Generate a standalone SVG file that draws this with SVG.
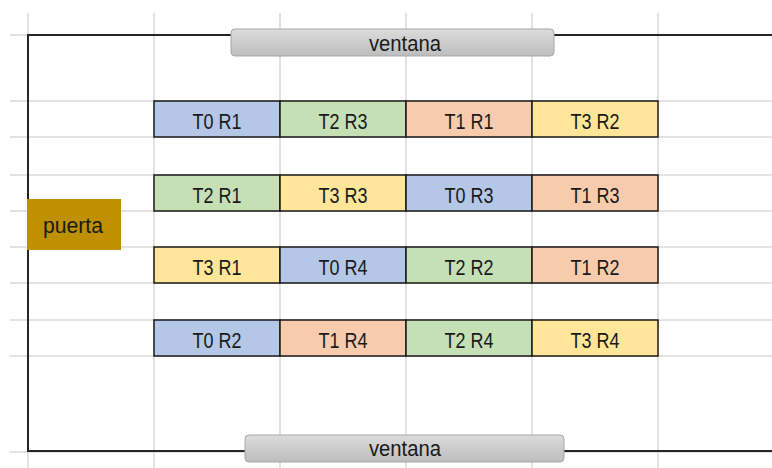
<svg xmlns="http://www.w3.org/2000/svg" width="772" height="468" viewBox="0 0 772 468">
<defs>
<linearGradient id="gv" x1="0" y1="0" x2="0" y2="1">
<stop offset="0" stop-color="#DCDCDC"/>
<stop offset="1" stop-color="#BDBDBD"/>
</linearGradient>
<style>
.grid line{stroke:#D9D9D9;stroke-width:1.5}
.wall{stroke:#262626;stroke-width:2;fill:none}
.cell{stroke:#1A1A1A;stroke-width:1.5}
.b{fill:#B4C7E7}.g{fill:#C5E0B4}.o{fill:#F8CBAD}.y{fill:#FFE699}
.t{font-family:"Liberation Sans",Arial,sans-serif;font-size:22px;fill:#1A1A1A;text-anchor:middle}
.win{fill:url(#gv);stroke:#A6A6A6;stroke-width:1}
</style>
</defs>
<rect width="772" height="468" fill="#FFFFFF"/>
<g class="grid">
<line x1="154" y1="13" x2="154" y2="468"/>
<line x1="280" y1="13" x2="280" y2="468"/>
<line x1="406" y1="13" x2="406" y2="468"/>
<line x1="532" y1="13" x2="532" y2="468"/>
<line x1="658" y1="13" x2="658" y2="468"/>
<line x1="28" y1="13" x2="28" y2="468"/>
<line x1="10" y1="35" x2="772" y2="35"/>
<line x1="10" y1="101" x2="772" y2="101"/>
<line x1="10" y1="137" x2="772" y2="137"/>
<line x1="10" y1="175" x2="772" y2="175"/>
<line x1="10" y1="211" x2="772" y2="211"/>
<line x1="10" y1="247" x2="772" y2="247"/>
<line x1="10" y1="283" x2="772" y2="283"/>
<line x1="10" y1="320" x2="772" y2="320"/>
<line x1="10" y1="356" x2="772" y2="356"/>
<line x1="10" y1="452" x2="772" y2="452"/>
</g>
<g id="walls">
<path class="wall" d="M772 35 H28 V451 H772"/>
</g>
<g id="ventana-top">
<rect class="win" x="231" y="29" width="323" height="27" rx="4"/>
<text class="t" x="405" y="51" textLength="72" lengthAdjust="spacingAndGlyphs">ventana</text>
</g>
<g id="ventana-bottom">
<rect class="win" x="245" y="435" width="319" height="27" rx="4"/>
<text class="t" x="405" y="456" textLength="72" lengthAdjust="spacingAndGlyphs">ventana</text>
</g>
<g id="puerta">
<rect x="27" y="199" width="94" height="51" fill="#BF9000"/>
<text class="t" x="73" y="233" textLength="60" lengthAdjust="spacingAndGlyphs">puerta</text>
</g>
<g id="r1c1"><rect class="cell b" x="154" y="101" width="126" height="36"/><text class="t" x="217" y="129" textLength="49" lengthAdjust="spacingAndGlyphs">T0 R1</text></g>
<g id="r1c2"><rect class="cell g" x="280" y="101" width="126" height="36"/><text class="t" x="343" y="129" textLength="49" lengthAdjust="spacingAndGlyphs">T2 R3</text></g>
<g id="r1c3"><rect class="cell o" x="406" y="101" width="126" height="36"/><text class="t" x="469" y="129" textLength="49" lengthAdjust="spacingAndGlyphs">T1 R1</text></g>
<g id="r1c4"><rect class="cell y" x="532" y="101" width="126" height="36"/><text class="t" x="595" y="129" textLength="49" lengthAdjust="spacingAndGlyphs">T3 R2</text></g>
<g id="r2c1"><rect class="cell g" x="154" y="175" width="126" height="36"/><text class="t" x="217" y="203" textLength="49" lengthAdjust="spacingAndGlyphs">T2 R1</text></g>
<g id="r2c2"><rect class="cell y" x="280" y="175" width="126" height="36"/><text class="t" x="343" y="203" textLength="49" lengthAdjust="spacingAndGlyphs">T3 R3</text></g>
<g id="r2c3"><rect class="cell b" x="406" y="175" width="126" height="36"/><text class="t" x="469" y="203" textLength="49" lengthAdjust="spacingAndGlyphs">T0 R3</text></g>
<g id="r2c4"><rect class="cell o" x="532" y="175" width="126" height="36"/><text class="t" x="595" y="203" textLength="49" lengthAdjust="spacingAndGlyphs">T1 R3</text></g>
<g id="r3c1"><rect class="cell y" x="154" y="247" width="126" height="36"/><text class="t" x="217" y="275" textLength="49" lengthAdjust="spacingAndGlyphs">T3 R1</text></g>
<g id="r3c2"><rect class="cell b" x="280" y="247" width="126" height="36"/><text class="t" x="343" y="275" textLength="49" lengthAdjust="spacingAndGlyphs">T0 R4</text></g>
<g id="r3c3"><rect class="cell g" x="406" y="247" width="126" height="36"/><text class="t" x="469" y="275" textLength="49" lengthAdjust="spacingAndGlyphs">T2 R2</text></g>
<g id="r3c4"><rect class="cell o" x="532" y="247" width="126" height="36"/><text class="t" x="595" y="275" textLength="49" lengthAdjust="spacingAndGlyphs">T1 R2</text></g>
<g id="r4c1"><rect class="cell b" x="154" y="320" width="126" height="36"/><text class="t" x="217" y="348" textLength="49" lengthAdjust="spacingAndGlyphs">T0 R2</text></g>
<g id="r4c2"><rect class="cell o" x="280" y="320" width="126" height="36"/><text class="t" x="343" y="348" textLength="49" lengthAdjust="spacingAndGlyphs">T1 R4</text></g>
<g id="r4c3"><rect class="cell g" x="406" y="320" width="126" height="36"/><text class="t" x="469" y="348" textLength="49" lengthAdjust="spacingAndGlyphs">T2 R4</text></g>
<g id="r4c4"><rect class="cell y" x="532" y="320" width="126" height="36"/><text class="t" x="595" y="348" textLength="49" lengthAdjust="spacingAndGlyphs">T3 R4</text></g>
</svg>
